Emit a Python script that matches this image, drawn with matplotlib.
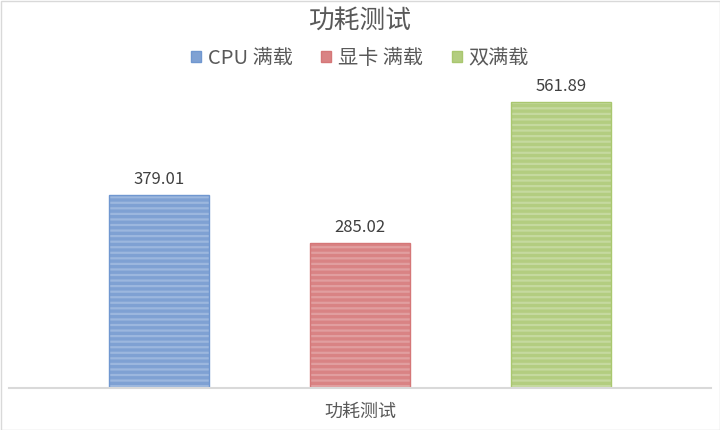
import matplotlib
matplotlib.use("Agg")
import matplotlib.pyplot as plt
from matplotlib.patches import Patch, Rectangle

plt.rcParams['font.family'] = ['Noto Sans CJK SC', 'DejaVu Sans']
plt.rcParams['hatch.linewidth'] = 1.6

title = "功耗测试"
category = "功耗测试"
series = ["CPU 满载", "显卡 满载", "双满载"]
values = [379.01, 285.02, 561.89]
labels = ["379.01", "285.02", "561.89"]

face_colors = ["#7fa1d3", "#d98384", "#b3cd80"]
stripe_colors = ["#9cb7de", "#e19e9f", "#c5d99f"]
edge_colors = ["#7097d0", "#d57778", "#a9c76f"]

fig = plt.figure(figsize=(7.2, 4.3), dpi=100)
ax = fig.add_axes([9/720, 42/430, 702/720, 308/430])

x = list(range(len(series)))
ax.bar(x, values, width=0.5, color=face_colors, edgecolor=stripe_colors,
       linewidth=0, hatch='---')
ax.bar(x, values, width=0.5, fill=False, edgecolor=edge_colors, linewidth=1)

for xi, v, lab in zip(x, values, labels):
    ax.annotate(lab, (xi, v), xytext=(0, 5), textcoords='offset points',
                ha='center', va='bottom', fontsize=12, color='#404040')

ax.set_xlim(-0.745, 2.745)
ax.set_ylim(0, 605)
for s in ['top', 'left', 'right']:
    ax.spines[s].set_visible(False)
ax.spines['bottom'].set_color('#d9d9d9')
ax.spines['bottom'].set_linewidth(1.5)
ax.set_yticks([])
ax.set_xticks([1])
ax.set_xticklabels([category], fontsize=13, color='#595959')
ax.tick_params(axis='x', length=0, pad=11)

fig.text(0.5, 1 - 21/430, title, ha='center', va='center', fontsize=18.5, color='#595959')

handles = [Patch(facecolor=fc, edgecolor=ec) for fc, ec in zip(face_colors, edge_colors)]
fig.legend(handles, series, loc='center', bbox_to_anchor=(0.5, 1 - 58/430), ncol=3,
           frameon=False, fontsize=14.5, labelcolor='#595959', handlelength=0.5,
           handleheight=0.5, handletextpad=0.35, columnspacing=1.4)

fig.patches.append(Rectangle((0.5/720, 0.5/430), 719/720, 429/430, transform=fig.transFigure,
                             fill=False, edgecolor='#d9d9d9', linewidth=1))

fig.savefig("out.png", dpi=100)
